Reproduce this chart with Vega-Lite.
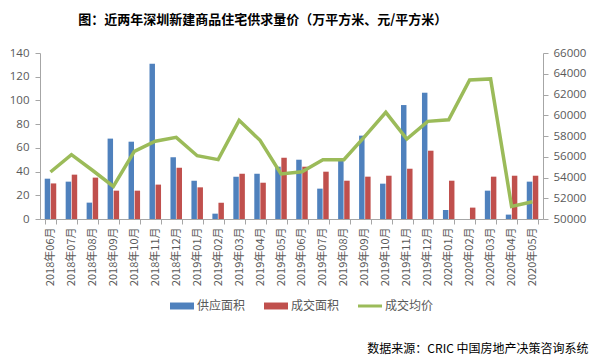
{
  "$schema": "https://vega.github.io/schema/vega-lite/v6.json",
  "width": 503,
  "height": 166,
  "autosize": {"type": "none"},
  "padding": {"left": 40, "top": 53, "right": 58, "bottom": 140},
  "background": "white",
  "title": {
    "text": "图：近两年深圳新建商品住宅供求量价（万平方米、元/平方米）",
    "anchor": "start",
    "dx": 69,
    "offset": 20,
    "fontSize": 13,
    "font": "Noto Sans CJK SC",
    "fontWeight": "bold",
    "color": "#000000"
  },
  "config": {
    "view": {"stroke": null},
    "axis": {
      "labelFont": "Open Sans",
      "labelFontSize": 11.5,
      "labelColor": "#595959",
      "domainColor": "#A6A6A6",
      "tickColor": "#A6A6A6",
      "grid": false
    }
  },
  "data": {
    "values": [
      {"月份": "2018年06月", "供应面积": 34, "成交面积": 30, "成交均价": 54530},
      {"月份": "2018年07月", "供应面积": 31.5, "成交面积": 37.4, "成交均价": 56200},
      {"月份": "2018年08月", "供应面积": 13.8, "成交面积": 34.9, "成交均价": 54700},
      {"月份": "2018年09月", "供应面积": 67.8, "成交面积": 23.9, "成交均价": 53150},
      {"月份": "2018年10月", "供应面积": 65.2, "成交面积": 23.9, "成交均价": 56520},
      {"月份": "2018年11月", "供应面积": 131, "成交面积": 29, "成交均价": 57490},
      {"月份": "2018年12月", "供应面积": 52, "成交面积": 43.3, "成交均价": 57870},
      {"月份": "2019年01月", "供应面积": 32.3, "成交面积": 26.7, "成交均价": 56100},
      {"月份": "2019年02月", "供应面积": 4.5, "成交面积": 13.8, "成交均价": 55720},
      {"月份": "2019年03月", "供应面积": 35.7, "成交面积": 38.2, "成交均价": 59510},
      {"月份": "2019年04月", "供应面积": 38.2, "成交面积": 30.6, "成交均价": 57580},
      {"月份": "2019年05月", "供应面积": 44.1, "成交面积": 51.7, "成交均价": 54340},
      {"月份": "2019年06月", "供应面积": 50, "成交面积": 44.1, "成交均价": 54560},
      {"月份": "2019年07月", "供应面积": 25.6, "成交面积": 39.9, "成交均价": 55720},
      {"月份": "2019年08月", "供应面积": 49.2, "成交面积": 32.3, "成交均价": 55720},
      {"月份": "2019年09月", "供应面积": 70.3, "成交面积": 35.7, "成交均价": 57970},
      {"月份": "2019年10月", "供应面积": 29.8, "成交面积": 36.5, "成交均价": 60280},
      {"月份": "2019年11月", "供应面积": 96.1, "成交面积": 42.4, "成交均价": 57710},
      {"月份": "2019年12月", "供应面积": 106.5, "成交面积": 57.6, "成交均价": 59410},
      {"月份": "2020年01月", "供应面积": 7.6, "成交面积": 32.3, "成交均价": 59570},
      {"月份": "2020年02月", "供应面积": 0, "成交面积": 9.6, "成交均价": 63400},
      {"月份": "2020年03月", "供应面积": 23.9, "成交面积": 35.7, "成交均价": 63500},
      {"月份": "2020年04月", "供应面积": 3.7, "成交面积": 36.5, "成交均价": 51220},
      {"月份": "2020年05月", "供应面积": 31.5, "成交面积": 36.5, "成交均价": 51670}
    ]
  },
  "layer": [
    {
      "transform": [{"fold": ["供应面积", "成交面积"], "as": ["系列", "面积"]}],
      "mark": {"type": "bar"},
      "encoding": {
        "x": {
          "field": "月份",
          "type": "nominal",
          "sort": null,
          "scale": {"paddingInner": 0.45, "paddingOuter": 0.225},
          "axis": {
            "labelAngle": -90,
            "labelFont": "Noto Sans CJK SC",
            "labelFontSize": 11,
            "tickBand": "extent",
            "tickSize": 5,
            "labelPadding": 3,
            "title": "数据来源：CRIC 中国房地产决策咨询系统",
            "titleFont": "Noto Sans CJK SC",
            "titleFontSize": 12,
            "titleFontWeight": "normal",
            "titleColor": "#000000",
            "titleAlign": "right",
            "titleBaseline": "middle",
            "titleAnchor": null,
            "titleX": 548,
            "titleY": 129
          }
        },
        "xOffset": {"field": "系列", "sort": ["供应面积", "成交面积"], "scale": {"paddingInner": 0.1}},
        "y": {
          "field": "面积",
          "type": "quantitative",
          "scale": {"domain": [0, 140], "nice": false},
          "axis": {"title": null, "values": [0, 20, 40, 60, 80, 100, 120, 140], "tickSize": 5, "labelPadding": 6}
        },
        "color": {
          "field": "系列",
          "type": "nominal",
          "scale": {"domain": ["供应面积", "成交面积", "成交均价"], "range": ["#4F81BD", "#C0504D", "#9BBB59"]},
          "legend": {
            "title": null,
            "orient": "none",
            "direction": "horizontal",
            "legendX": 130,
            "legendY": 241,
            "padding": 0,
            "symbolType": "M-1,-0.29H1V0.29H-1Z",
            "symbolSize": 576,
            "symbolStrokeWidth": 0,
            "labelFont": "Noto Sans CJK SC",
            "labelFontSize": 12,
            "labelColor": "#595959",
            "labelOffset": 3,
            "columnPadding": 18,
            "encode": {
              "symbols": {
                "update": {
                  "shape": {"signal": "datum.value === '成交均价' ? 'M-1,-0.125H1V0.125H-1Z' : 'M-1,-0.29H1V0.29H-1Z'"}
                }
              }
            }
          }
        }
      }
    },
    {
      "mark": {"type": "line", "strokeWidth": 3.5},
      "encoding": {
        "x": {"field": "月份", "type": "nominal", "sort": null},
        "y": {
          "field": "成交均价",
          "type": "quantitative",
          "scale": {"domain": [50000, 66000], "nice": false},
          "axis": {"orient": "right", "title": null, "values": [50000, 52000, 54000, 56000, 58000, 60000, 62000, 64000, 66000], "format": "d", "tickSize": 5, "labelPadding": 5}
        },
        "color": {"datum": "成交均价"}
      }
    }
  ],
  "resolve": {"scale": {"y": "independent"}}
}
